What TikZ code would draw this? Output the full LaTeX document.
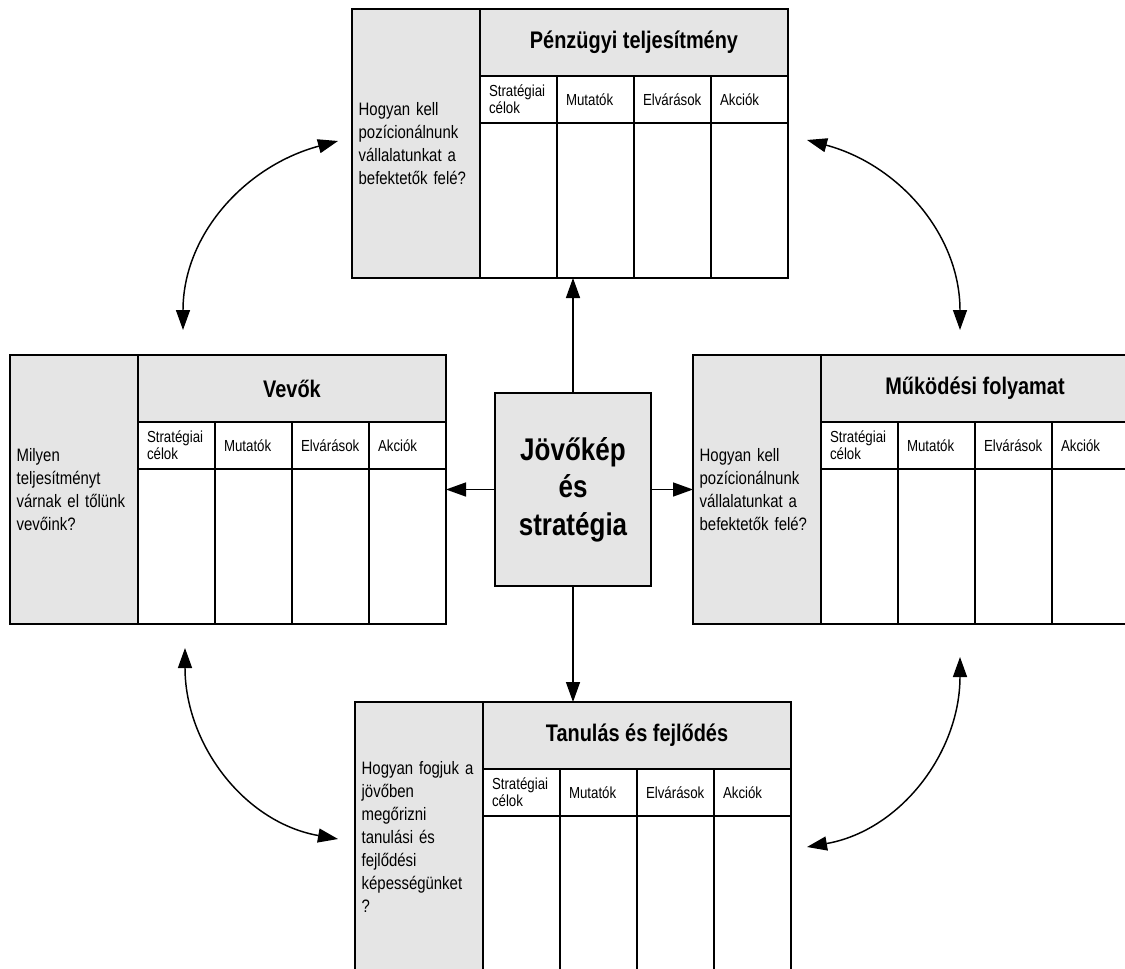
\documentclass[tikz,border=0pt]{standalone}
\usepackage{fontspec}
\setmainfont[FakeStretch=0.83]{Liberation Sans}
\usetikzlibrary{positioning,arrows.meta}

% one perspective: question column, title, four columns
\newcommand{\bscpanel}[5]{%
  \node[question, anchor=north west] (#1) at (#2,#3) {#5};
  \node[header, anchor=north west] (#1h) at (#1.north east) {#4};
  \node[subcell, anchor=north west] (#11s) at (#1h.south west) {Stratégiai\\célok};
  \node[subcell, right=0pt of #11s] (#12s) {Mutatók};
  \node[subcell, right=0pt of #12s] (#13s) {Elvárások};
  \node[subcell, right=0pt of #13s] (#14s) {Akciók};
  \foreach \c in {1,...,4}
    \node[bodycell, below=0pt of #1\c s] (#1\c b) {};
}

\begin{document}
\begin{tikzpicture}[x=0.75pt, y=0.75pt,
    box/.style={draw, line width=1.3pt, outer sep=0pt},
    question/.style={box, fill=gray!20, minimum width=96pt, minimum height=201.75pt,
      inner xsep=5pt, text width=86pt, align=left,
      font=\fontsize{13.5}{17.25}\selectfont},
    header/.style={box, fill=gray!20, minimum width=231pt, minimum height=50.25pt,
      font=\fontsize{18}{20}\selectfont\bfseries},
    subcell/.style={box, fill=white, minimum width=57.75pt, minimum height=35.25pt,
      inner xsep=6.75pt, text width=44.25pt, align=left,
      font=\fontsize{12}{13}\selectfont},
    bodycell/.style={box, fill=white, minimum width=57.75pt, minimum height=116.25pt},
    vision/.style={box, fill=gray!20, minimum width=117pt, minimum height=144.75pt,
      align=center, font=\fontsize{23.5}{28}\selectfont\bfseries},
    arr/.style={line width=1.1pt, -{Triangle[length=15pt,width=10.5pt]}},
    biarr/.style={line width=1.1pt, {Triangle[length=15pt,width=10.5pt]}-{Triangle[length=15pt,width=10.5pt]}}]

  \path[use as bounding box, clip] (0,0) rectangle (1125,-968);

  \bscpanel{penz}{352}{-9}{Pénzügyi teljesítmény}{Hogyan kell\\pozícionálnunk\\vállalatunkat a\\befektetők felé?}
  \bscpanel{vevo}{10}{-355}{Vevők}{Milyen\\teljesítményt\\várnak el tőlünk\\vevőink?}
  \bscpanel{mukod}{693}{-355}{Működési folyamat}{Hogyan kell\\pozícionálnunk\\vállalatunkat a\\befektetők felé?}
  \bscpanel{tanul}{355}{-702}{Tanulás és fejlődés}{Hogyan fogjuk a\\jövőben\\megőrizni\\tanulási és\\fejlődési\\képességünket\\?}

  \node[vision] (kozep) at (573,-489.5) {Jövőkép\\és\\stratégia};

  \draw[arr] (kozep.north) -- (kozep.north |- penz.south);
  \draw[arr] (kozep.south) -- (kozep.south |- tanul.north);
  \draw[arr] (kozep.west) -- (kozep.west -| vevo4b.east);
  \draw[arr] (kozep.east) -- (kozep.east -| mukod.west);

  % curved links between the perspectives
  \coordinate (tl1) at (183,-330);
  \coordinate (tl2) at (338,-141);
  \coordinate (tr1) at (807,-140);
  \coordinate (tr2) at (960,-330);
  \coordinate (bl1) at (185,-648);
  \coordinate (bl2) at (338,-839);
  \coordinate (br1) at (960,-657);
  \coordinate (br2) at (807,-847);
  \draw[biarr] (tl1) to[out=90, in=195] (tl2);
  \draw[biarr] (tr1) to[out=-15, in=90] (tr2);
  \draw[biarr] (bl1) to[out=-90, in=170] (bl2);
  \draw[biarr] (br2) to[out=10, in=-90] (br1);
\end{tikzpicture}
\end{document}
